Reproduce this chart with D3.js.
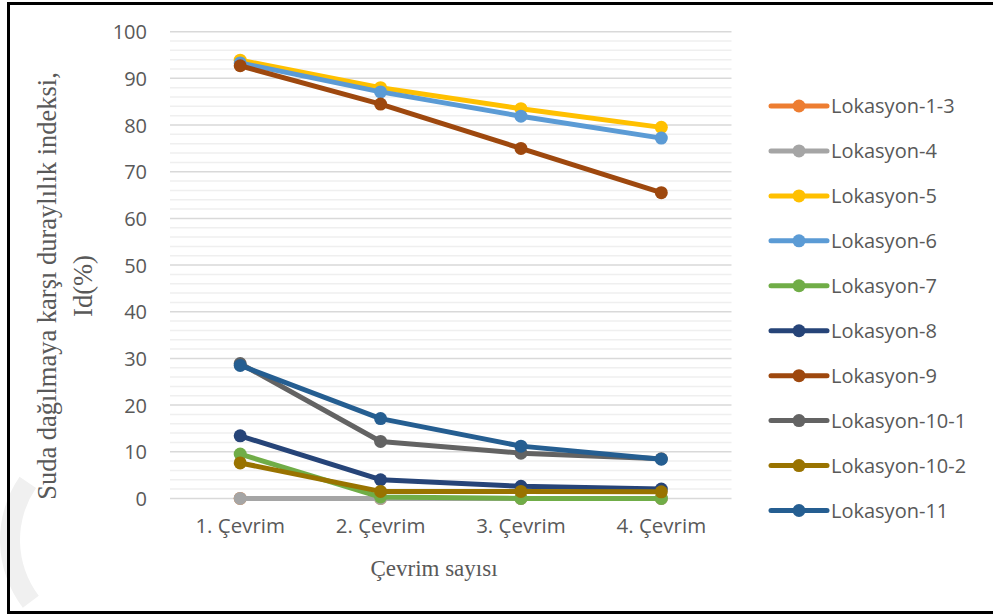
<!DOCTYPE html>
<html>
<head>
<meta charset="utf-8">
<script src="https://cdn.jsdelivr.net/npm/d3@7"></script>
<style>
  html, body { margin: 0; padding: 0; background: #fff; }
  svg { display: block; }
</style>
</head>
<body>
<svg id="chart" width="993" height="616"></svg>
<script>
// Cycles
const categories = ["1. Çevrim", "2. Çevrim", "3. Çevrim", "4. Çevrim"];

// Slake durability index Id(%) per location
const lokasyon_1_3  = [0, 0, 0, 0];
const lokasyon_4    = [0, 0, 0, 0];
const lokasyon_5    = [93.9, 88.0, 83.5, 79.5];
const lokasyon_6    = [93.3, 87.1, 81.9, 77.2];
const lokasyon_7    = [9.5, 0.3, 0, 0];
const lokasyon_8    = [13.4, 4.0, 2.6, 2.0];
const lokasyon_9    = [92.7, 84.5, 75.0, 65.5];
const lokasyon_10_1 = [28.9, 12.2, 9.7, 8.5];
const lokasyon_10_2 = [7.6, 1.5, 1.5, 1.4];
const lokasyon_11   = [28.5, 17.1, 11.2, 8.4];

const seriesNames = ["Lokasyon-1-3", "Lokasyon-4", "Lokasyon-5", "Lokasyon-6", "Lokasyon-7",
                     "Lokasyon-8", "Lokasyon-9", "Lokasyon-10-1", "Lokasyon-10-2", "Lokasyon-11"];
const seriesValues = [lokasyon_1_3, lokasyon_4, lokasyon_5, lokasyon_6, lokasyon_7,
                      lokasyon_8, lokasyon_9, lokasyon_10_1, lokasyon_10_2, lokasyon_11];
const seriesColors = ["#ED7D31", "#A5A5A5", "#FFC000", "#5B9BD5", "#70AD47",
                      "#264478", "#9E480E", "#636363", "#997300", "#255E91"];

const yTicks = [0, 10, 20, 30, 40, 50, 60, 70, 80, 90, 100];

const yTitle1 = "Suda dağılmaya karşı duraylılık indeksi,";
const yTitle2 = "Id(%)";
const xTitle = "Çevrim sayısı";

const svg = d3.select("#chart");
const sansFont = "'Open Sans', 'Noto Sans', sans-serif";
const serifFont = "'Liberation Serif', 'DejaVu Serif', serif";
const textGray = "#595959";

// Faint mark along the lower-left edge
svg.append("path")
  .attr("d", d3.arc()({innerRadius: 92, outerRadius: 112, startAngle: -Math.PI / 2 - 0.65, endAngle: -Math.PI / 2 + 0.6}))
  .attr("transform", "translate(112,540)")
  .attr("fill", "#f0f0f0");

// Outer frame
svg.append("rect")
  .attr("x", 8.5).attr("y", 3.5)
  .attr("width", 1000).attr("height", 609)
  .attr("fill", "none")
  .attr("stroke", "#000")
  .attr("stroke-width", 3);

const plot = { left: 170, right: 731.5, top: 31.7, bottom: 498.4 };

const x = d3.scaleBand().domain(categories).range([plot.left, plot.right]);
const xc = c => x(c) + x.bandwidth() / 2;
const y = d3.scaleLinear().domain([0, 100]).range([plot.bottom, plot.top]);

// Minor gridlines every 2 units
const minorTicks = d3.range(0, 101, 2).filter(v => v % 10 !== 0);
svg.append("g").selectAll("line").data(minorTicks).join("line")
  .attr("x1", plot.left).attr("x2", plot.right)
  .attr("y1", d => y(d)).attr("y2", d => y(d))
  .attr("stroke", "#efefef").attr("stroke-width", 1.5);

// Major gridlines
svg.append("g").selectAll("line").data(yTicks).join("line")
  .attr("x1", plot.left).attr("x2", plot.right)
  .attr("y1", d => y(d)).attr("y2", d => y(d))
  .attr("stroke", "#d9d9d9").attr("stroke-width", 1.5);

// Y axis labels
const yAxis = d3.axisLeft(y).tickValues(yTicks).tickSize(0).tickPadding(0);
const gy = svg.append("g").attr("transform", "translate(147,0)").call(yAxis);
gy.select(".domain").remove();
gy.selectAll("text")
  .attr("font-family", sansFont).attr("font-size", 20)
  .attr("fill", textGray).attr("dy", "0.35em");

// X axis labels
const xAxis = d3.axisBottom(x).tickSize(0).tickPadding(0);
const gx = svg.append("g").attr("transform", "translate(0,518)").call(xAxis);
gx.select(".domain").remove();
gx.selectAll("text")
  .attr("font-family", sansFont).attr("font-size", 20.5)
  .attr("fill", textGray).attr("dy", "0.71em");

// Axis titles
svg.append("text")
  .attr("x", 434).attr("y", 576)
  .attr("text-anchor", "middle")
  .attr("font-family", serifFont).attr("font-size", 23)
  .attr("fill", textGray)
  .text(xTitle);

const yt = svg.append("text")
  .attr("transform", "translate(0,286) rotate(-90)")
  .attr("text-anchor", "middle")
  .attr("font-family", serifFont).attr("font-size", 26.5)
  .attr("fill", textGray);
yt.append("tspan").attr("x", 0).attr("y", 56).text(yTitle1);
yt.append("tspan").attr("x", 0).attr("y", 92).text(yTitle2);

// Series lines and markers
const line = d3.line().x((d, i) => xc(categories[i])).y(d => y(d));
seriesValues.forEach((vals, k) => {
  const g = svg.append("g");
  g.append("path")
    .attr("d", line(vals))
    .attr("fill", "none")
    .attr("stroke", seriesColors[k])
    .attr("stroke-width", 5)
    .attr("stroke-linejoin", "round");
  g.selectAll("circle").data(vals).join("circle")
    .attr("cx", (d, i) => xc(categories[i]))
    .attr("cy", d => y(d))
    .attr("r", 6.5)
    .attr("fill", seriesColors[k]);
});

// Legend
const legendY = d3.scalePoint().domain(seriesNames).range([106, 510.5]);
const lg = svg.append("g");
seriesNames.forEach((name, k) => {
  const cy = legendY(name);
  lg.append("line")
    .attr("x1", 771).attr("x2", 827)
    .attr("y1", cy).attr("y2", cy)
    .attr("stroke", seriesColors[k]).attr("stroke-width", 5)
    .attr("stroke-linecap", "round");
  lg.append("circle")
    .attr("cx", 799).attr("cy", cy).attr("r", 6.5)
    .attr("fill", seriesColors[k]);
  lg.append("text")
    .attr("x", 831).attr("y", cy).attr("dy", "0.35em")
    .attr("font-family", sansFont).attr("font-size", 20)
    .attr("fill", textGray)
    .text(name);
});
</script>
</body>
</html>
